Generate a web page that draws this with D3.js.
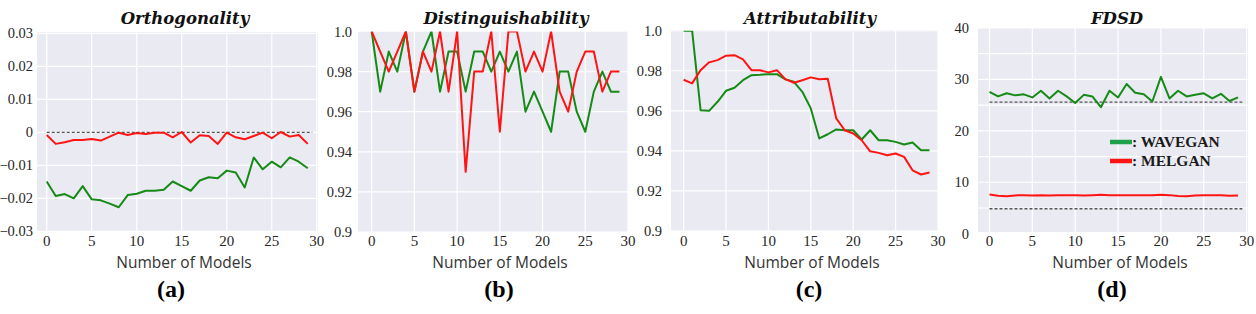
<!DOCTYPE html>
<html>
<head>
<meta charset="utf-8">
<script src="https://cdn.jsdelivr.net/npm/d3@7"></script>
<style>
  body { margin: 0; background: #fff; }
  svg { display: block; }
</style>
</head>
<body>
<svg id="chart" width="1256" height="314"></svg>
<script>
// x positions (number of models)
var models = d3.range(30);

// (a) Orthogonality
var orthoWave = [-0.0149, -0.0193, -0.0187, -0.0200, -0.0163, -0.0203, -0.0206, -0.0216, -0.0227, -0.0190,
                 -0.0186, -0.0177, -0.0177, -0.0174, -0.0149, -0.0163, -0.0177, -0.0146, -0.0136, -0.0139,
                 -0.0116, -0.0122, -0.0167, -0.0076, -0.0112, -0.0089, -0.0106, -0.0076, -0.0089, -0.0109];
var orthoMel = [-0.0008, -0.0035, -0.0030, -0.0023, -0.0023, -0.0020, -0.0025, -0.0013, -0.0001, -0.0008,
                -0.0002, -0.0005, -0.0001, -0.0001, -0.0015, 0.0001, -0.0031, -0.0009, -0.0011, -0.0035,
                -0.0001, -0.0015, -0.0021, -0.0011, -0.0001, -0.0018, 0.0001, -0.0013, -0.0008, -0.0035];

// (b) Distinguishability
var distWave = [1.0, 0.97, 0.99, 0.98, 1.0, 0.97, 0.99, 1.0, 0.97, 0.99,
                0.99, 0.97, 0.99, 0.99, 0.98, 0.99, 0.98, 0.99, 0.96, 0.97,
                0.96, 0.95, 0.98, 0.98, 0.96, 0.95, 0.97, 0.98, 0.97, 0.97];
var distMel = [1.0, 0.99, 0.98, 0.99, 1.0, 0.97, 0.99, 0.98, 1.0, 0.97,
               1.0, 0.93, 0.98, 0.98, 1.0, 0.95, 1.0, 1.0, 0.98, 0.99,
               0.98, 1.0, 0.97, 0.96, 0.98, 0.99, 0.99, 0.97, 0.98, 0.98];

// (c) Attributability
var attrWave = [1.0, 1.0, 0.9603, 0.960, 0.9645, 0.970, 0.9715, 0.9753, 0.9778, 0.978,
                0.9783, 0.9783, 0.9757, 0.9745, 0.9695, 0.9612, 0.9462, 0.9483, 0.9507, 0.9503,
                0.9503, 0.9457, 0.9503, 0.9453, 0.9453, 0.9445, 0.9432, 0.9442, 0.9403, 0.9403];
var attrMel = [0.9755, 0.9737, 0.9803, 0.9842, 0.9853, 0.9875, 0.9878, 0.9857, 0.9803, 0.9803,
               0.9792, 0.9803, 0.9758, 0.9740, 0.9753, 0.9767, 0.9758, 0.9760, 0.9562, 0.9503,
               0.9487, 0.9453, 0.9398, 0.9390, 0.9378, 0.9387, 0.9370, 0.9303, 0.9282, 0.9292];

// (d) FDSD
var fdsdWave = [27.6, 26.7, 27.3, 26.9, 27.1, 26.5, 27.8, 26.3, 27.8, 26.7,
                25.4, 27.0, 26.7, 24.6, 27.8, 26.5, 29.1, 27.4, 27.1, 25.7,
                30.5, 26.3, 27.8, 26.7, 27.0, 27.3, 26.3, 27.2, 25.8, 26.5];
var fdsdMel = [7.6, 7.4, 7.3, 7.45, 7.5, 7.45, 7.5, 7.45, 7.5, 7.5,
               7.5, 7.45, 7.5, 7.55, 7.5, 7.5, 7.5, 7.5, 7.5, 7.5,
               7.55, 7.5, 7.35, 7.3, 7.45, 7.5, 7.5, 7.5, 7.4, 7.45];
var fdsdRefs = [25.6, 4.85];

var xTicks = [0, 5, 10, 15, 20, 25, 30];
var seriesNames = ["WAVEGAN", "MELGAN"];

var GREEN = "#168a16", RED = "#ff1414";

var panels = [
  { title: "Orthogonality", label: "(a)", rect: [37, 318, 32, 232], xd: [-1.08, 30.14], yd: [-0.0302, 0.0304],
    ticks: [-0.03, -0.02, -0.01, 0, 0.01, 0.02, 0.03], grid: null, fmt: function(v) { return v === 0 ? "0" : d3.format(".2f")(v); },
    wave: orthoWave, mel: orthoMel, refs: [0], titleX: 185, labelX: 171, axisX: 184, tickGap: 4 },
  { title: "Distinguishability", label: "(b)", rect: [358, 628, 31.5, 232], xd: [-1.6, 30.0], yd: [0.9, 1.0],
    ticks: [0.9, 0.92, 0.94, 0.96, 0.98, 1.0], grid: null, fmt: function(v) { return v === 0.9 ? "0.9" : v === 1 ? "1.0" : d3.format(".2f")(v); },
    wave: distWave, mel: distMel, refs: [], titleX: 506, labelX: 499, axisX: 500, tickGap: 6 },
  { title: "Attributability", label: "(c)", rect: [671, 938, 30.7, 231], xd: [-1.49, 30.0], yd: [0.9, 1.0],
    ticks: [0.9, 0.92, 0.94, 0.96, 0.98, 1.0], grid: null, fmt: function(v) { return v === 0.9 ? "0.9" : v === 1 ? "1.0" : d3.format(".2f")(v); },
    wave: attrWave, mel: attrMel, refs: [], titleX: 810, labelX: 809, axisX: 812, tickGap: 9 },
  { title: "FDSD", label: "(d)", rect: [978, 1248, 28, 232], xd: [-1.34, 30.16], yd: [0.33, 40],
    ticks: [0, 10, 20, 30, 40], grid: [0, 5, 10, 15, 20, 25, 30, 35, 40], fmt: d3.format("d"),
    wave: fdsdWave, mel: fdsdMel, refs: fdsdRefs, titleX: 1117, labelX: 1112, axisX: 1120, tickGap: 9, legend: true }
];

var svg = d3.select("#chart");
var defs = svg.append("defs");

panels.forEach(function(p, i) {
  var r = p.rect;
  var x = d3.scaleLinear().domain(p.xd).range([r[0], r[1]]);
  var y = d3.scaleLinear().domain(p.yd).range([r[3], r[2]]);
  var g = svg.append("g");

  defs.append("clipPath").attr("id", "clip" + i)
    .append("rect").attr("x", r[0]).attr("y", r[2]).attr("width", r[1] - r[0]).attr("height", r[3] - r[2]);

  g.append("rect")
    .attr("x", r[0]).attr("y", r[2])
    .attr("width", r[1] - r[0]).attr("height", r[3] - r[2])
    .attr("fill", "#eaeaf2");

  var grid = g.append("g").attr("clip-path", "url(#clip" + i + ")");
  grid.selectAll(".vg").data(xTicks).enter().append("line")
    .attr("x1", function(d) { return x(d); }).attr("x2", function(d) { return x(d); })
    .attr("y1", r[2]).attr("y2", r[3])
    .attr("stroke", "#fff").attr("stroke-width", 1.2);
  grid.selectAll(".hg").data(p.grid || p.ticks).enter().append("line")
    .attr("x1", r[0]).attr("x2", r[1])
    .attr("y1", function(d) { return y(d); }).attr("y2", function(d) { return y(d); })
    .attr("stroke", "#fff").attr("stroke-width", 1.2);

  // reference dashed lines
  g.selectAll(".ref").data(p.refs).enter().append("line")
    .attr("x1", x(0)).attr("x2", x(29.5))
    .attr("y1", function(d) { return y(d); }).attr("y2", function(d) { return y(d); })
    .attr("stroke", "#555").attr("stroke-width", 1.3).attr("stroke-dasharray", "3,2");

  var line = d3.line().x(function(d, k) { return x(models[k]); }).y(function(d) { return y(d); });
  var lines = g.append("g").attr("clip-path", "url(#clip" + i + ")");
  lines.append("path").datum(p.wave).attr("d", line)
    .attr("fill", "none").attr("stroke", GREEN).attr("stroke-width", 2).attr("stroke-linejoin", "round");
  lines.append("path").datum(p.mel).attr("d", line)
    .attr("fill", "none").attr("stroke", RED).attr("stroke-width", 2).attr("stroke-linejoin", "round");

  // y tick labels
  g.selectAll(".yt").data(p.ticks).enter().append("text")
    .attr("x", r[0] - p.tickGap).attr("y", function(d) { return y(d); })
    .attr("dy", "0.35em").attr("text-anchor", "end")
    .attr("font-family", "Liberation Serif, serif").attr("font-size", 14.5).attr("fill", "#262626")
    .text(p.fmt);

  // x tick labels
  g.selectAll(".xt").data(xTicks).enter().append("text")
    .attr("x", function(d) { return x(d); }).attr("y", 246)
    .attr("text-anchor", "middle")
    .attr("font-family", "Liberation Serif, serif").attr("font-size", 15).attr("fill", "#262626")
    .text(function(d) { return d; });

  g.append("text").attr("x", p.axisX).attr("y", 268).attr("text-anchor", "middle")
    .attr("font-family", "Open Sans, sans-serif").attr("font-size", 15.5).attr("fill", "#333")
    .text("Number of Models");

  g.append("text").attr("x", p.titleX).attr("y", 24).attr("text-anchor", "middle")
    .attr("font-family", "DejaVu Serif, serif").attr("font-size", 16.5)
    .attr("font-weight", "bold").attr("font-style", "italic").attr("fill", "#111")
    .text(p.title);

  g.append("text").attr("x", p.labelX).attr("y", 297).attr("text-anchor", "middle")
    .attr("font-family", "Liberation Serif, serif").attr("font-size", 24)
    .attr("font-weight", "bold").attr("fill", "#000")
    .text(p.label);

  if (p.legend) {
    var leg = g.append("g").attr("transform", "translate(" + (r[0] + 132) + "," + 142 + ")");
    var swatch = ["#1fa04a", RED];
    seriesNames.forEach(function(name, k) {
      leg.append("line").attr("x1", 0).attr("x2", 22).attr("y1", k * 19).attr("y2", k * 19)
        .attr("stroke", swatch[k]).attr("stroke-width", 4.5);
      leg.append("text").attr("x", 22).attr("y", k * 19 + 5)
        .attr("font-family", "Liberation Serif, serif").attr("font-size", 15.5)
        .attr("font-weight", "bold").attr("fill", "#1a1a1a")
        .text(": " + name);
    });
  }
});
</script>
</body>
</html>
